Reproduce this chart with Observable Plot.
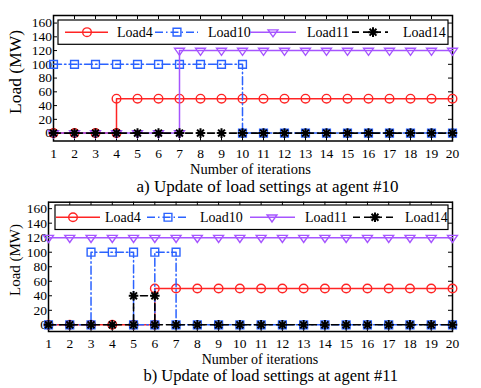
<!DOCTYPE html>
<html><head><meta charset="utf-8">
<script src="https://cdn.jsdelivr.net/npm/d3@7"></script>
<script src="https://cdn.jsdelivr.net/npm/@observablehq/plot@0.6"></script>
<style>
html,body{margin:0;padding:0;background:#fff;}
#fig{position:relative;width:481px;height:388px;overflow:hidden;font-family:"Liberation Serif","Times New Roman",serif;}
.panel{position:absolute;left:0;}
#overlay{position:absolute;left:0;top:0;}
</style></head><body><div id="fig"></div>
<script>
// ---------- data ----------
const iterations = [1,2,3,4,5,6,7,8,9,10,11,12,13,14,15,16,17,18,19,20];
const yTicks = [0,20,40,60,80,100,120,140,160];
const seriesNames = ["Load4","Load10","Load11","Load14"];
const seriesColors = ["#ff2424","#2a62ff","#a655ff","#000000"];
const xLabel = "Number of iterations";
const yLabel = "Load (MW)";
const captionA = "a) Update of load settings at agent #10";
const captionB = "b) Update of load settings at agent #11";

// panel a (agent #10): [iteration, MW]
const a_load4  = [[1,0],[2,0],[3,0],[4,0],[4,50],[5,50],[6,50],[7,50],[8,50],[9,50],[10,50],[11,50],[12,50],[13,50],[14,50],[15,50],[16,50],[17,50],[18,50],[19,50],[20,50]];
const a_load10 = [[1,100],[2,100],[3,100],[4,100],[5,100],[6,100],[7,100],[8,100],[9,100],[10,100],[10,0],[11,0],[12,0],[13,0],[14,0],[15,0],[16,0],[17,0],[18,0],[19,0],[20,0]];
const a_load11 = [[1,0],[2,0],[3,0],[4,0],[5,0],[6,0],[7,0],[7,120],[8,120],[9,120],[10,120],[11,120],[12,120],[13,120],[14,120],[15,120],[16,120],[17,120],[18,120],[19,120],[20,120]];
const a_load14 = [[1,0],[2,0],[3,0],[4,0],[5,0],[6,0],[7,0],[8,0],[9,0],[10,0],[11,0],[12,0],[13,0],[14,0],[15,0],[16,0],[17,0],[18,0],[19,0],[20,0]];

// panel b (agent #11)
const b_load4  = [[1,0],[2,0],[3,0],[4,0],[5,0],[6,0],[6,50],[7,50],[8,50],[9,50],[10,50],[11,50],[12,50],[13,50],[14,50],[15,50],[16,50],[17,50],[18,50],[19,50],[20,50]];
const b_load10 = [[1,0],[2,0],[3,0],[3,100],[4,100],[5,100],[5,0],[6,0],[6,100],[7,100],[7,0],[8,0],[9,0],[10,0],[11,0],[12,0],[13,0],[14,0],[15,0],[16,0],[17,0],[18,0],[19,0],[20,0]];
const b_load11 = [[1,120],[2,120],[3,120],[4,120],[5,120],[6,120],[7,120],[8,120],[9,120],[10,120],[11,120],[12,120],[13,120],[14,120],[15,120],[16,120],[17,120],[18,120],[19,120],[20,120]];
const b_load14 = [[1,0],[2,0],[3,0],[4,0],[5,0],[5,40],[6,40],[6,0],[7,0],[8,0],[9,0],[10,0],[11,0],[12,0],[13,0],[14,0],[15,0],[16,0],[17,0],[18,0],[19,0],[20,0]];

// ---------- styling ----------
const FONT = "'Liberation Serif','Times New Roman',serif";
const triDown = {draw(ctx, size){ const r=Math.sqrt(size/Math.PI); ctx.moveTo(-1.3*r,-0.6*r); ctx.lineTo(1.3*r,-0.6*r); ctx.lineTo(0,1.25*r); ctx.closePath(); }};
const star8 = {draw(ctx, size){ const r=Math.sqrt(size/Math.PI); const a=1.45*r, b=a*0.72;
  ctx.moveTo(-a,0); ctx.lineTo(a,0); ctx.moveTo(0,-a); ctx.lineTo(0,a);
  ctx.moveTo(-b,-b); ctx.lineTo(b,b); ctx.moveTo(-b,b); ctx.lineTo(b,-b); }};
const styles = [
  {stroke: seriesColors[0], dash: null,          symbol: "circle", r: 4.3, sw: 1.5, msw: 1.4},
  {stroke: seriesColors[1], dash: "8,3,1.5,3",   symbol: "square", r: 4.4, sw: 1.5, msw: 1.4},
  {stroke: seriesColors[2], dash: null,          symbol: triDown,  r: 3.8, sw: 1.5, msw: 1.4},
  {stroke: seriesColors[3], dash: "7,4",         symbol: star8,    r: 3.3, sw: 1.6, msw: 2.0}
];

const W = 481;
function makePanel(seriesData, cfg){
  const {height, mt, mb, ml, mr, yDomain, pad} = cfg;
  const ph = height - mt - mb, pw = W - ml - mr;
  const marks = [
    Plot.frame({stroke:"black", strokeWidth:1.5}),
    Plot.tickX(iterations, {x:d=>d, insetTop: ph-4, stroke:"black"}),
    Plot.tickX(iterations, {x:d=>d, insetBottom: ph-4, stroke:"black"}),
    Plot.tickY(yTicks, {y:d=>d, insetRight: pw-4, stroke:"black"}),
    Plot.tickY(yTicks, {y:d=>d, insetLeft: pw-4, stroke:"black"}),
    Plot.axisX(iterations, {anchor:"bottom", tickSize:0, tickPadding:pad, label:null, fontSize:13.5}),
    Plot.axisY(yTicks, {anchor:"left", tickSize:0, tickPadding:1.5, label:null, fontSize:13.5})
  ];
  seriesData.forEach((data, i) => {
    const s = styles[i];
    marks.push(Plot.line(data, {x:d=>d[0], y:d=>d[1], stroke:s.stroke, strokeWidth:s.sw, strokeDasharray:s.dash}));
    marks.push(Plot.dot(data, {x:d=>d[0], y:d=>d[1], symbol:s.symbol, r:s.r, stroke:s.stroke, fill:"none", strokeWidth:s.msw}));
  });
  return Plot.plot({
    width: W, height, marginTop: mt, marginBottom: mb, marginLeft: ml, marginRight: mr,
    x: {domain:[1,20]}, y: {domain: yDomain},
    style: {fontFamily: FONT, fontSize: "13.5px", background: "transparent", color: "black", overflow: "visible"},
    marks
  });
}

const fig = document.getElementById("fig");
const pA = makePanel([a_load4, a_load10, a_load11, a_load14], {height:165, mt:15, mb:24.5, ml:53, mr:29, yDomain:[-11.5,171], pad:7.5});
pA.classList.add("panel"); pA.style.top = "0px";
fig.appendChild(pA);
const pB = makePanel([b_load4, b_load10, b_load11, b_load14], {height:170, mt:15.7, mb:25, ml:48, mr:29, yDomain:[-9.2,168.9], pad:6.5});
pB.classList.add("panel"); pB.style.top = "186px";
fig.appendChild(pB);

// ---------- overlay: legends, axis titles, captions ----------
const svg = d3.select(fig).append("svg").attr("id","overlay").attr("width",W).attr("height",388)
  .style("font-family", FONT).style("overflow","visible");

function legend(box, items){
  const g = svg.append("g");
  g.append("rect").attr("x",box.x0).attr("y",box.y0).attr("width",box.x1-box.x0).attr("height",box.y1-box.y0)
    .attr("fill","white").attr("stroke","black").attr("stroke-width",1.2);
  const cy = (box.y0+box.y1)/2;
  items.forEach((it, i) => {
    const s = styles[i];
    g.append("line").attr("x1",it[0]).attr("x2",it[1]).attr("y1",cy).attr("y2",cy)
      .attr("stroke",s.stroke).attr("stroke-width",s.sw).attr("stroke-dasharray", s.dash);
    const sym = typeof s.symbol === "string" ? (s.symbol==="circle"? d3.symbolCircle : d3.symbolSquare) : s.symbol;
    g.append("path").attr("d", d3.symbol(sym, Math.PI*s.r*s.r)()).attr("transform",`translate(${it[2]},${cy})`)
      .attr("fill","none").attr("stroke",s.stroke).attr("stroke-width",s.msw);
    g.append("text").attr("x",it[3]).attr("y",cy).attr("dy","0.35em").attr("font-size",14).text(seriesNames[i]);
  });
}
legend({x0:58,y0:20,x1:448,y1:44.3}, [[65,108,87,117],[155,198,177,208],[250,296,273,307],[352,388,373,403]]);
legend({x0:55,y0:205,x1:448,y1:229.5}, [[56,100,73,105],[147,188,168,200],[250,295,272,305],[353,395,375,405]]);

function txt(x,y,size,s,rot){
  const t = svg.append("text").attr("x",x).attr("y",y).attr("dy","0.35em").attr("text-anchor","middle").attr("font-size",size).text(s);
  if (rot) t.attr("transform",`rotate(-90,${x},${y})`);
}
txt(15,72,17.5,yLabel,true);
txt(15,260,15,yLabel,true);
txt(250.5,168.5,14.5,xLabel);
txt(260,359,14,xLabel);
txt(267.5,186,17,captionA);
txt(270.8,375.5,16.5,captionB);
</script></body></html>
